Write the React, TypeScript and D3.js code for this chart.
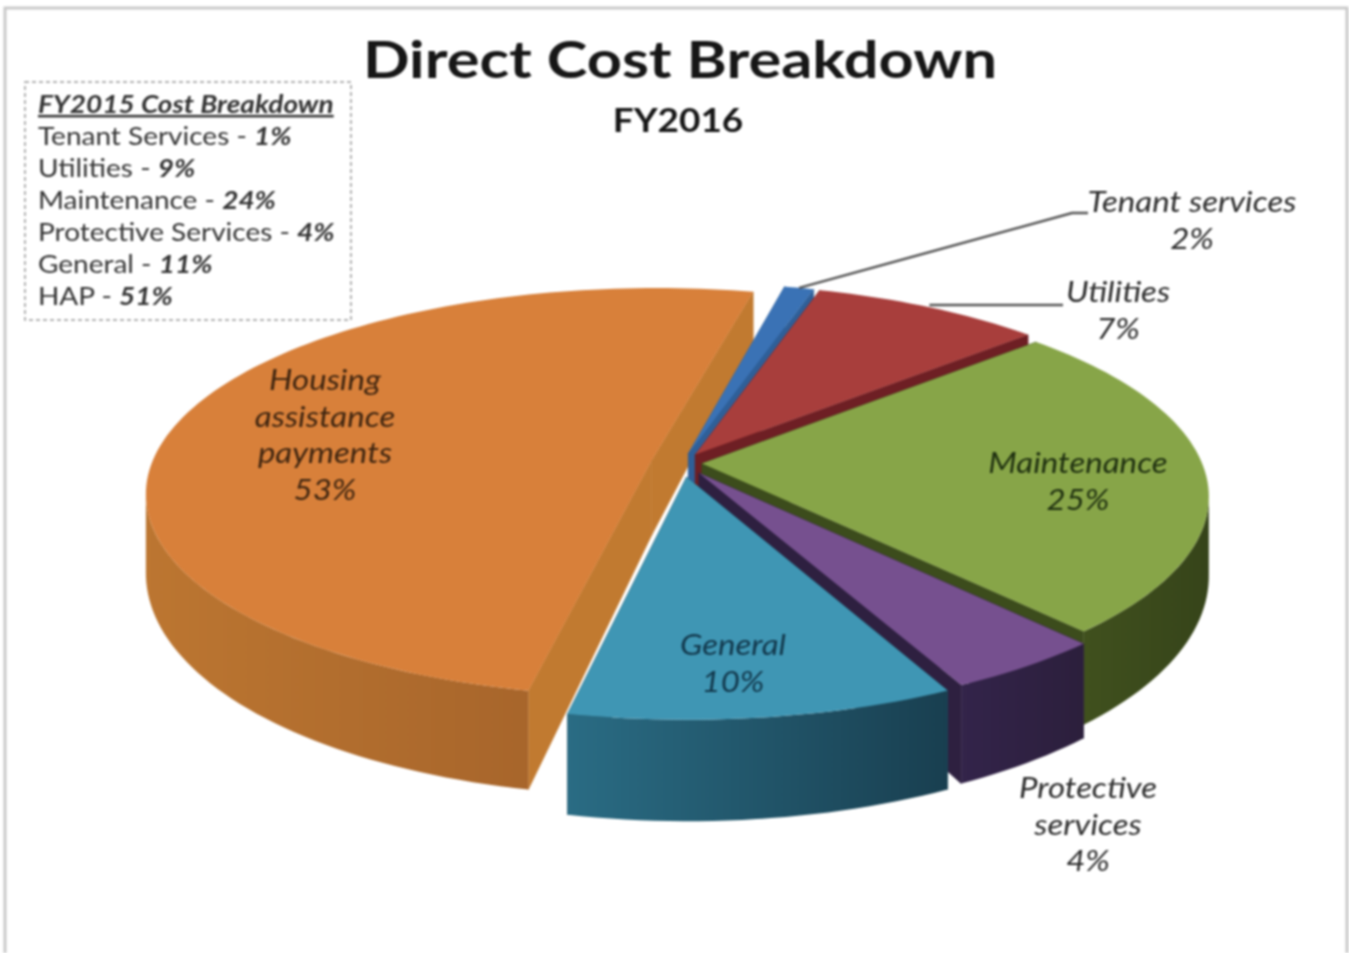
import React from 'react';
import * as d3 from 'd3';

const categories = ['Tenant services', 'Utilities', 'Maintenance', 'Protective services', 'General', 'Housing assistance payments'];
// percentages printed on the labels
const percents = [2, 7, 25, 4, 10, 53];
// share of the circle each slice really takes up in the picture
const sliceShares = [1.1, 8.6, 25, 4.4, 10.5, 50.4];
const legendNames = ['Tenant Services', 'Utilities', 'Maintenance', 'Protective Services', 'General', 'HAP'];
const legendValues = [1, 9, 24, 4, 11, 51];

const topColors = ['#3A72B5', '#A83E3C', '#87A548', '#76508F', '#3F96B4', '#D8803A'];
const edgeColors = ['#2F5F98', '#6E1F24', '#3C4C1C', '#2E2040', '#1E5062', '#C17A30'];
const rimLeft = ['#2F5F98', '#7A2428', '#44551F', '#33244A', '#2A6C84', '#BC7631'];
const rimRight = ['#2F5F98', '#6E1F24', '#36441A', '#2C1F3C', '#193F50', '#9C5C28'];
const explode = [0.05, 0.05, 0.04, 0.06, 0.07, 0.062];
// back to front
const drawOrder = [5, 0, 1, 2, 3, 4];

const labelLines = [
  ['Tenant services'],
  ['Utilities'],
  ['Maintenance'],
  ['Protective', 'services'],
  ['General'],
  ['Housing', 'assistance', 'payments'],
];
const labelPos = [[1192, 212], [1118, 302], [1078, 473], [1088, 798], [733, 655], [325, 390]];
const labelColors = ['#2b2b2b', '#2b2b2b', '#1f3010', '#2b2b2b', '#12384c', '#3f2510'];

const cx = 682, cy = 463, R = 500, Ry = 200, persp = 0.156, depth = 75;
const FONT = 'Lato, Carlito, sans-serif';
const deg = Math.PI / 180;
// rim is only visible between these two angles
const rimFrom = Math.acos(-persp), rimTo = 2 * Math.PI - rimFrom;

const arcs = d3.pie<number>().sort(null).startAngle(13 * deg).endAngle(373 * deg)(sliceShares);

function project(i: number, a: number, r: number, z: number): [number, number] {
  const mid = (arcs[i].startAngle + arcs[i].endAngle) / 2;
  const u = r * Math.sin(a) + explode[i] * Math.sin(mid);
  const v = -r * Math.cos(a) - explode[i] * Math.cos(mid);
  const s = 1 / (1 - persp * v);
  return [cx + R * u * s, cy + Ry * v * s + z * depth * (1 + 0.33 * v)];
}

const line = d3.line();

function rimPoints(i: number, z: number, from: number, to: number) {
  const steps = Math.max(8, Math.ceil((to - from) * 40));
  return d3.range(steps + 1).map(k => project(i, from + (to - from) * k / steps, 1, z));
}

function Slice({i}: {i: number}) {
  const a0 = arcs[i].startAngle, a1 = arcs[i].endAngle;
  const top = rimPoints(i, 0, a0, a1);
  const apex = project(i, 0, 0, 0), apexBase = project(i, 0, 0, 1);
  const wall = (a: number) => line([apex, project(i, a, 1, 0), project(i, a, 1, 1), apexBase])! + 'Z';
  const from = Math.max(a0, rimFrom), to = Math.min(a1, rimTo);
  return <g>
    <path d={wall(a0)} fill={edgeColors[i]} stroke={edgeColors[i]} strokeWidth={0.6}/>
    <path d={wall(a1)} fill={edgeColors[i]} stroke={edgeColors[i]} strokeWidth={0.6}/>
    {to > from && <path d={line([...rimPoints(i, 0, from, to), ...rimPoints(i, 1, from, to).reverse()])! + 'Z'} fill={`url(#rim${i})`}/>}
    <path d={line([apex, ...top])! + 'Z'} fill={topColors[i]}/>
  </g>;
}

function Stretched({x, y, sx, children, ...rest}: any) {
  return <text transform={`translate(${x},${y}) scale(${sx},1)`} fontFamily={FONT} {...rest}>{children}</text>;
}

export default function App() {
  const tenantAnchor = project(0, (arcs[0].startAngle + arcs[0].endAngle) / 2, 1, 0);
  const utilAnchor = project(1, (arcs[1].startAngle + arcs[1].endAngle) / 2, 1, 0);
  return <svg width={1349} height={953} style={{position: 'absolute', left: 0, top: 0, background: '#fff'}}>
    <defs>
      {arcs.map((d, i) => {
        const ext = d3.extent(rimPoints(i, 0, d.startAngle, d.endAngle).map(p => p[0])) as [number, number];
        return <linearGradient key={i} id={`rim${i}`} gradientUnits="userSpaceOnUse" x1={ext[0]} x2={ext[1]} y1={0} y2={0}>
          <stop offset="0" stopColor={rimLeft[i]}/>
          <stop offset="1" stopColor={rimRight[i]}/>
        </linearGradient>;
      })}
    </defs>
    <g style={{filter: 'blur(1px)'}}>
      <path d="M5,953V8H1347V953" fill="none" stroke="#c9c9c9" strokeWidth={3}/>
      {drawOrder.map(i => <Slice key={i} i={i}/>)}

      <path d={line([tenantAnchor, [1072, 213], [1088, 213]])!} fill="none" stroke="#555" strokeWidth={2.5}/>
      <path d={line([[utilAnchor[0], 305], [1063, 305]])!} fill="none" stroke="#555" strokeWidth={2.5}/>

      <Stretched x={680} y={78} sx={1.18} textAnchor="middle" fontWeight={700} fontSize={52} fill="#161616">Direct Cost Breakdown</Stretched>
      <Stretched x={678} y={132} sx={1.12} textAnchor="middle" fontWeight={700} fontSize={33} fill="#161616">FY2016</Stretched>

      {categories.map((c, i) => <g key={c}>
        {[...labelLines[i], `${percents[i]}%`].map((t, k) => <Stretched key={k} x={labelPos[i][0]} y={labelPos[i][1] + k * 36.5} sx={1.18}
          textAnchor="middle" fontStyle="italic" fontSize={28} fill={labelColors[i]}>{t}</Stretched>)}
      </g>)}

      <rect x={25} y={82} width={326} height={238} fill="#fff" stroke="#9a9a9a" strokeWidth={1.5} strokeDasharray="4 3"/>
      <Stretched x={38} y={113} sx={1.12} fontStyle="italic" fontWeight={700} fontSize={25} textDecoration="underline" fill="#333">FY2015 Cost Breakdown</Stretched>
      {legendNames.map((n, i) => <Stretched key={n} x={38} y={145 + i * 32} sx={1.12} fontSize={25} fill="#333">
        {n} - <tspan fontStyle="italic" fontWeight={700}>{legendValues[i]}%</tspan>
      </Stretched>)}
    </g>
  </svg>;
}
